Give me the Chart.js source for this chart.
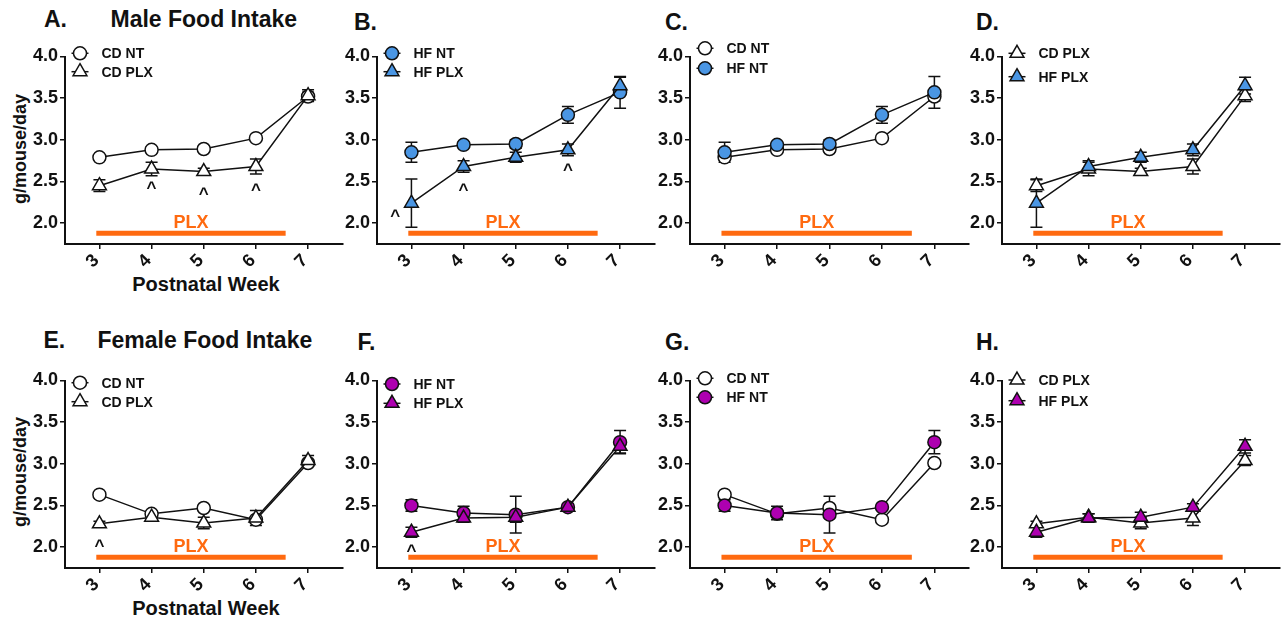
<!DOCTYPE html>
<html><head><meta charset="utf-8">
<script src="https://cdn.jsdelivr.net/npm/chart.js@4.4.1/dist/chart.umd.min.js"></script>
<style>
html,body{margin:0;padding:0;background:#fff;width:1284px;height:620px;overflow:hidden;position:relative;font-family:'Liberation Sans',Arial,sans-serif;}
canvas{position:absolute;}
.t{position:absolute;font-weight:bold;color:#111;white-space:nowrap;line-height:1;}
.big{font-size:23px;}
.xt{font-size:20px;transform:translateX(-50%);}
.yt{font-size:18px;transform:translate(-50%,-50%) rotate(-90deg);}
</style></head><body>
<div class="t big" style="left:44px;top:7.5px">A.</div>
<div class="t big" style="left:110.5px;top:7.5px">Male Food Intake</div>
<div class="t big" style="left:354px;top:10.8px">B.</div>
<div class="t big" style="left:665px;top:11px">C.</div>
<div class="t big" style="left:976px;top:11px">D.</div>
<div class="t big" style="left:43.5px;top:329px">E.</div>
<div class="t big" style="left:97.5px;top:329px">Female Food Intake</div>
<div class="t big" style="left:357.5px;top:331.3px">F.</div>
<div class="t big" style="left:665px;top:331.3px">G.</div>
<div class="t big" style="left:976px;top:331.3px">H.</div>
<div class="t xt" style="left:206px;top:274.3px">Postnatal Week</div>
<div class="t xt" style="left:206px;top:597.6px">Postnatal Week</div>
<div class="t yt" style="left:20px;top:149px">g/mouse/day</div>
<div class="t yt" style="left:20px;top:471.7px">g/mouse/day</div>
<script>
// ---------- data ----------
const weeks = [3, 4, 5, 6, 7];
const xTickValues = [3, 4, 5, 6, 7];
const yTickValues = [2.0, 2.5, 3.0, 3.5, 4.0];

const maleCdNt     = [2.79, 2.88, 2.89, 3.02, 3.52];
const maleCdNtSem  = [0.03, 0.03, 0.03, 0.03, 0.05];
const maleCdPlx    = [2.45, 2.65, 2.62, 2.68, 3.53];
const maleCdPlxSem = [0.07, 0.08, 0.04, 0.09, 0.07];
const maleHfNt     = [2.85, 2.94, 2.95, 3.30, 3.57];
const maleHfNtSem  = [0.12, 0.03, 0.05, 0.10, 0.19];
const maleHfPlx    = [2.24, 2.68, 2.79, 2.88, 3.65];
const maleHfPlxSem = [0.29, 0.07, 0.06, 0.07, 0.10];

const femaleCdNt     = [2.63, 2.40, 2.47, 2.33, 3.01];
const femaleCdNtSem  = [0.03, 0.03, 0.03, 0.03, 0.04];
const femaleCdPlx    = [2.28, 2.36, 2.29, 2.35, 3.04];
const femaleCdPlxSem = [0.03, 0.04, 0.07, 0.09, 0.06];
const femaleHfNt     = [2.50, 2.41, 2.39, 2.48, 3.26];
const femaleHfNtSem  = [0.07, 0.08, 0.22, 0.03, 0.14];
const femaleHfPlx    = [2.18, 2.35, 2.36, 2.48, 3.21];
const femaleHfPlxSem = [0.06, 0.05, 0.06, 0.04, 0.08];

// PLX treatment period (weeks) and significance marks ("^")
const plxStart = 2.94, plxEnd = 6.57, plxLevel = 1.88;
const caretsAx = [4, 5, 6],       caretsAy = [2.47, 2.40, 2.45];
const caretsBx = [2.69, 4, 6],    caretsBy = [2.14, 2.45, 2.69];
const caretsEx = [3],             caretsEy = [2.06];
const caretsFx = [3],             caretsFy = [2.00];

// ---------- styles ----------
const FONT = "'Liberation Sans', Arial, sans-serif";
const INK = '#111111';
const WHITE = '#FFFFFF';
const MALE = '#4A96E4';
const FEMALE = '#AE00B0';
const ORANGE = '#FF6A10';
const colLeft = [0, 312, 625, 937];
const rowTop = [0, 324];
const CW = 352, CH = 296;

function ser(label, vals, sem, style, fill) {
  return { label, vals, sem, style, fill };
}
const panels = [
  {r:0,c:0, s:[ser('CD NT',maleCdNt,maleCdNtSem,'circle',WHITE), ser('CD PLX',maleCdPlx,maleCdPlxSem,'triangle',WHITE)], cx:caretsAx, cy:caretsAy, leg:[-3.2,15.2]},
  {r:0,c:1, s:[ser('HF NT',maleHfNt,maleHfNtSem,'circle',MALE), ser('HF PLX',maleHfPlx,maleHfPlxSem,'triangle',MALE)], cx:caretsBx, cy:caretsBy, leg:[-3.2,15.2]},
  {r:0,c:2, s:[ser('CD NT',maleCdNt,maleCdNtSem,'circle',WHITE), ser('HF NT',maleHfNt,maleHfNtSem,'circle',MALE)], cx:[], cy:[], leg:[-8.2,11.8]},
  {r:0,c:3, s:[ser('CD PLX',maleCdPlx,maleCdPlxSem,'triangle',WHITE), ser('HF PLX',maleHfPlx,maleHfPlxSem,'triangle',MALE)], cx:[], cy:[], leg:[-3.2,20.2]},
  {r:1,c:0, s:[ser('CD NT',femaleCdNt,femaleCdNtSem,'circle',WHITE), ser('CD PLX',femaleCdPlx,femaleCdPlxSem,'triangle',WHITE)], cx:caretsEx, cy:caretsEy, leg:[2.2,21.2]},
  {r:1,c:1, s:[ser('HF NT',femaleHfNt,femaleHfNtSem,'circle',FEMALE), ser('HF PLX',femaleHfPlx,femaleHfPlxSem,'triangle',FEMALE)], cx:caretsFx, cy:caretsFy, leg:[3.5,22.8]},
  {r:1,c:2, s:[ser('CD NT',femaleCdNt,femaleCdNtSem,'circle',WHITE), ser('HF NT',femaleHfNt,femaleHfNtSem,'circle',FEMALE)], cx:[], cy:[], leg:[-2.2,16.8]},
  {r:1,c:3, s:[ser('CD PLX',femaleCdPlx,femaleCdPlxSem,'triangle',WHITE), ser('HF PLX',femaleHfPlx,femaleHfPlxSem,'triangle',FEMALE)], cx:[], cy:[], leg:[-0.5,20.2]},
];

function radiusFor(style) { return style === 'triangle' ? 8 : 6.5; }

const decor = {
  id: 'decor',
  beforeDatasetsDraw(chart) {
    const {ctx, scales:{x, y}} = chart;
    ctx.save();
    ctx.strokeStyle = INK; ctx.lineWidth = 1.5;
    chart.data.datasets.forEach(ds => {
      if (!ds.sem) return;
      ds.data.forEach((p, i) => {
        const px = x.getPixelForValue(p.x);
        const t = y.getPixelForValue(p.y + ds.sem[i]);
        const b = y.getPixelForValue(p.y - ds.sem[i]);
        ctx.beginPath();
        ctx.moveTo(px, t); ctx.lineTo(px, b);
        ctx.moveTo(px - 6, t); ctx.lineTo(px + 6, t);
        ctx.moveTo(px - 6, b); ctx.lineTo(px + 6, b);
        ctx.stroke();
      });
    });
    ctx.restore();
  },
  afterDatasetsDraw(chart) {
    const {ctx, scales:{x, y}, chartArea} = chart;
    const cfg = chart.options.plugins.decor;
    ctx.save();
    // PLX label
    const plx = chart.data.datasets.find(d => d.isPlx);
    const mx = (x.getPixelForValue(plx.data[0].x) + x.getPixelForValue(plx.data[1].x)) / 2;
    const my = y.getPixelForValue(plx.data[0].y);
    ctx.fillStyle = ORANGE;
    ctx.font = "bold 18px " + FONT;
    ctx.textAlign = 'center'; ctx.textBaseline = 'alphabetic';
    ctx.fillText('PLX', mx, my - 5);
    // carets
    ctx.fillStyle = INK;
    ctx.font = "bold 17px " + FONT;
    cfg.cx.forEach((cxv, i) => {
      ctx.fillText('^', x.getPixelForValue(cxv), y.getPixelForValue(cfg.cy[i]) + 9);
    });
    // legend
    const lx = chartArea.left + 15;
    chart.data.datasets.filter(d => d.sem).forEach((ds, i) => {
      const ly = chartArea.top + cfg.leg[i];
      ctx.strokeStyle = INK; ctx.lineWidth = 1.5;
      ctx.beginPath(); ctx.moveTo(lx - 8.5, ly); ctx.lineTo(lx + 8.5, ly); ctx.stroke();
      ctx.fillStyle = ds.pointBackgroundColor;
      Chart.helpers.drawPoint(ctx, {pointStyle: ds.pointStyle, radius: ds.pointRadius, borderWidth: 1.5, rotation: 0}, lx, ly);
      ctx.fillStyle = INK;
      ctx.font = "bold 14px " + FONT;
      ctx.textAlign = 'left'; ctx.textBaseline = 'middle';
      ctx.fillText(ds.label, chartArea.left + 36.5, ly + 1);
    });
    ctx.restore();
  }
};

panels.forEach((p, k) => {
  const cv = document.createElement('canvas');
  cv.width = CW; cv.height = CH;
  cv.style.left = colLeft[p.c] + 'px';
  cv.style.top = rowTop[p.r] + 'px';
  cv.style.width = CW + 'px'; cv.style.height = CH + 'px';
  document.body.appendChild(cv);
  const datasets = p.s.map((s, i) => ({
    label: s.label,
    data: weeks.map((w, j) => ({x: w, y: s.vals[j]})),
    sem: s.sem,
    borderColor: INK, borderWidth: 1.5,
    pointStyle: s.style, pointRadius: radiusFor(s.style),
    pointBackgroundColor: s.fill, pointBorderColor: INK, pointBorderWidth: 1.5,
    fill: false, tension: 0, order: 2 - i
  }));
  datasets.push({
    label: 'PLX', isPlx: true,
    data: [{x: plxStart, y: plxLevel}, {x: plxEnd, y: plxLevel}],
    borderColor: ORANGE, borderWidth: 5, borderCapStyle: 'butt',
    pointRadius: 0, fill: false, order: 5
  });
  new Chart(cv, {
    type: 'line',
    data: { datasets },
    options: {
      responsive: false, animation: false, devicePixelRatio: 1,
      layout: { padding: { top: 56.5, right: CW - 345, left: 0, bottom: 0 } },
      plugins: { legend: { display: false }, tooltip: { enabled: false }, decor: { cx: p.cx, cy: p.cy, leg: p.leg } },
      scales: {
        x: {
          type: 'linear', min: 2.34, max: 7.66,
          afterBuildTicks: s => { s.ticks = xTickValues.map(v => ({value: v})); },
          afterFit: s => { s.height = 52; },
          grid: { drawOnChartArea: false, drawTicks: true, tickLength: 5, color: INK, lineWidth: 1.5 },
          border: { color: INK, width: 2 },
          ticks: { color: INK, font: { family: FONT, size: 18, weight: 'bold' }, minRotation: 45, maxRotation: 45, padding: 1, labelOffset: -3, autoSkip: false, callback: v => String(v) }
        },
        y: {
          min: 1.75, max: 4.0,
          afterBuildTicks: s => { s.ticks = yTickValues.map(v => ({value: v})); },
          afterFit: s => { s.width = 65; },
          grid: { drawOnChartArea: false, drawTicks: true, tickLength: 5, color: INK, lineWidth: 1.5 },
          border: { color: INK, width: 2 },
          ticks: { color: INK, font: { family: FONT, size: 18, weight: 'bold' }, padding: 2, callback: v => Number(v).toFixed(1) }
        }
      }
    },
    plugins: [decor]
  });
});
</script>
</body></html>
